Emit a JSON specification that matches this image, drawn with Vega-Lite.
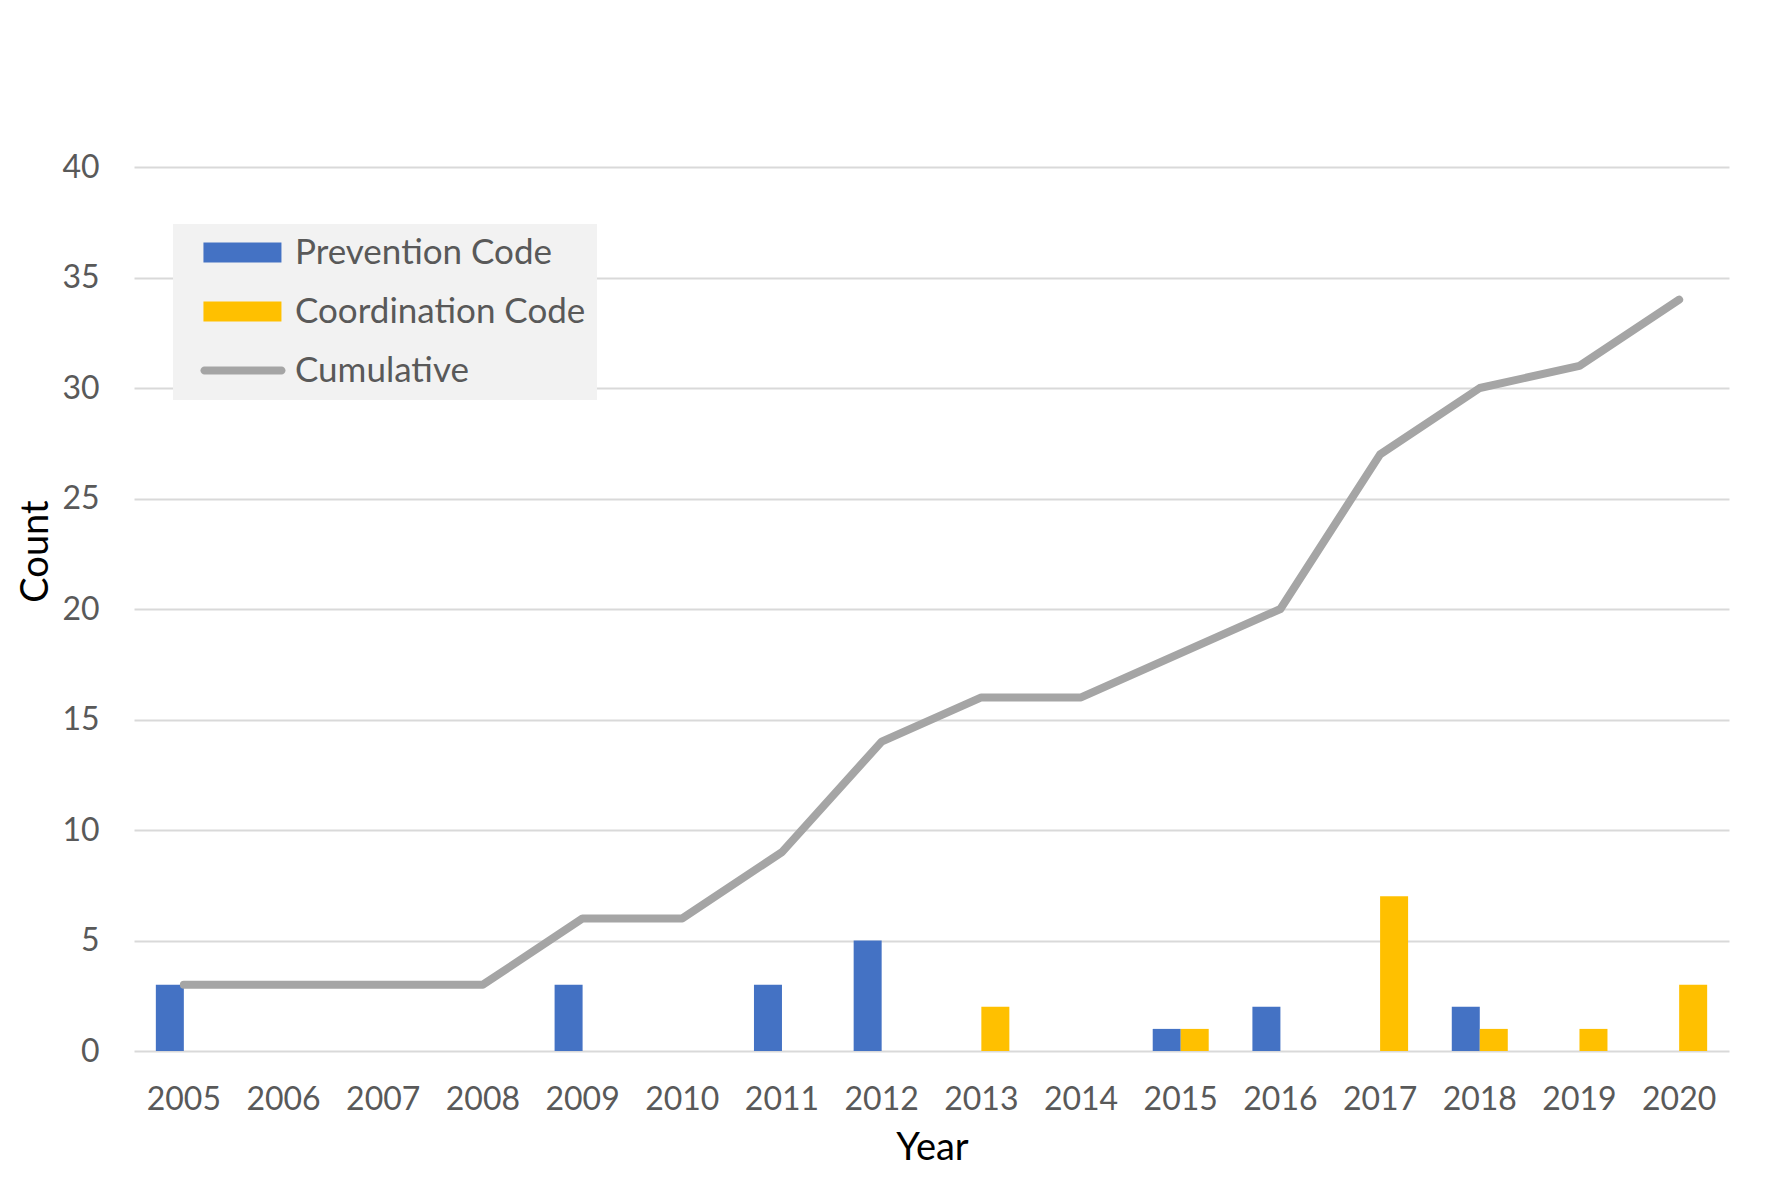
{
  "$schema": "https://vega.github.io/schema/vega-lite/v6.json",
  "width": 1595,
  "height": 884,
  "autosize": {"type": "none"},
  "padding": {"left": 134, "top": 167, "right": 53, "bottom": 127},
  "background": "white",
  "config": {"view": {"stroke": null}, "font": "Lato"},
  "data": {
    "values": [
      {"year": "2005", "series": "Prevention Code", "count": 3},
      {"year": "2005", "series": "Coordination Code", "count": 0},
      {"year": "2006", "series": "Prevention Code", "count": 0},
      {"year": "2006", "series": "Coordination Code", "count": 0},
      {"year": "2007", "series": "Prevention Code", "count": 0},
      {"year": "2007", "series": "Coordination Code", "count": 0},
      {"year": "2008", "series": "Prevention Code", "count": 0},
      {"year": "2008", "series": "Coordination Code", "count": 0},
      {"year": "2009", "series": "Prevention Code", "count": 3},
      {"year": "2009", "series": "Coordination Code", "count": 0},
      {"year": "2010", "series": "Prevention Code", "count": 0},
      {"year": "2010", "series": "Coordination Code", "count": 0},
      {"year": "2011", "series": "Prevention Code", "count": 3},
      {"year": "2011", "series": "Coordination Code", "count": 0},
      {"year": "2012", "series": "Prevention Code", "count": 5},
      {"year": "2012", "series": "Coordination Code", "count": 0},
      {"year": "2013", "series": "Prevention Code", "count": 0},
      {"year": "2013", "series": "Coordination Code", "count": 2},
      {"year": "2014", "series": "Prevention Code", "count": 0},
      {"year": "2014", "series": "Coordination Code", "count": 0},
      {"year": "2015", "series": "Prevention Code", "count": 1},
      {"year": "2015", "series": "Coordination Code", "count": 1},
      {"year": "2016", "series": "Prevention Code", "count": 2},
      {"year": "2016", "series": "Coordination Code", "count": 0},
      {"year": "2017", "series": "Prevention Code", "count": 0},
      {"year": "2017", "series": "Coordination Code", "count": 7},
      {"year": "2018", "series": "Prevention Code", "count": 2},
      {"year": "2018", "series": "Coordination Code", "count": 1},
      {"year": "2019", "series": "Prevention Code", "count": 0},
      {"year": "2019", "series": "Coordination Code", "count": 1},
      {"year": "2020", "series": "Prevention Code", "count": 0},
      {"year": "2020", "series": "Coordination Code", "count": 3},
      {"year": "2005", "series": "Cumulative", "count": 3},
      {"year": "2006", "series": "Cumulative", "count": 3},
      {"year": "2007", "series": "Cumulative", "count": 3},
      {"year": "2008", "series": "Cumulative", "count": 3},
      {"year": "2009", "series": "Cumulative", "count": 6},
      {"year": "2010", "series": "Cumulative", "count": 6},
      {"year": "2011", "series": "Cumulative", "count": 9},
      {"year": "2012", "series": "Cumulative", "count": 14},
      {"year": "2013", "series": "Cumulative", "count": 16},
      {"year": "2014", "series": "Cumulative", "count": 16},
      {"year": "2015", "series": "Cumulative", "count": 18},
      {"year": "2016", "series": "Cumulative", "count": 20},
      {"year": "2017", "series": "Cumulative", "count": 27},
      {"year": "2018", "series": "Cumulative", "count": 30},
      {"year": "2019", "series": "Cumulative", "count": 31},
      {"year": "2020", "series": "Cumulative", "count": 34}
    ]
  },
  "encoding": {
    "x": {
      "field": "year",
      "type": "ordinal",
      "scale": {"paddingInner": 0, "paddingOuter": 0},
      "axis": {
        "title": "Year",
        "labelAngle": 0,
        "domain": false,
        "ticks": false,
        "tickSize": 0,
        "grid": false,
        "labelPadding": 48,
        "labelBaseline": "middle",
        "labelFontSize": 32,
        "labelColor": "#595959",
        "titleFontSize": 38,
        "titleColor": "#000000",
        "titleFontWeight": "normal",
        "titleX": 798,
        "titleY": 97,
        "titleAlign": "center",
        "titleBaseline": "middle"
      }
    },
    "y": {
      "field": "count",
      "type": "quantitative",
      "scale": {"domain": [0, 40]},
      "axis": {
        "title": "Count",
        "values": [0, 5, 10, 15, 20, 25, 30, 35, 40],
        "domain": false,
        "ticks": false,
        "tickSize": 0,
        "grid": true,
        "gridColor": "#d9d9d9",
        "gridWidth": 2,
        "labelPadding": 35,
        "labelFontSize": 32,
        "labelColor": "#595959",
        "titleFontSize": 38,
        "titleColor": "#000000",
        "titleFontWeight": "normal",
        "titleX": -98,
        "titleY": 384,
        "titleAngle": -90,
        "titleAlign": "center",
        "titleBaseline": "middle"
      }
    },
    "color": {
      "field": "series",
      "type": "nominal",
      "scale": {
        "domain": ["Prevention Code", "Coordination Code", "Cumulative"],
        "range": ["#4472c4", "#ffc000", "#a5a5a5"]
      },
      "legend": {
        "title": null,
        "orient": "none",
        "legendX": 39,
        "legendY": 57,
        "fillColor": "#f2f2f2",
        "padding": 11,
        "symbolSize": 900,
        "symbolStrokeWidth": 0,
        "labelFontSize": 35,
        "labelColor": "#595959",
        "labelOffset": 76,
        "rowPadding": 23,
        "labelLimit": 500,
        "encode": {
          "symbols": {
            "update": {
              "shape": {"signal": "datum.value === 'Cumulative' ? 'M0.2,-0.27L5.33,-0.27A0.27,0.27 0 0 1 5.33,0.27L0.2,0.27A0.27,0.27 0 0 1 0.2,-0.27Z' : 'M0.13,-0.67L5.33,-0.67L5.33,0.67L0.13,0.67Z'"},
              "fill": {"scale": "color", "field": "value"},
              "strokeWidth": {"value": 0},
              "opacity": {"value": 1}
            }
          }
        }
      }
    }
  },
  "layer": [
    {
      "transform": [{"filter": "datum.series !== 'Cumulative'"}],
      "mark": {"type": "bar"},
      "encoding": {
        "xOffset": {
          "field": "series",
          "type": "nominal",
          "scale": {"domain": ["Prevention Code", "Coordination Code"], "paddingInner": 0, "paddingOuter": 0.78}
        }
      }
    },
    {
      "transform": [{"filter": "datum.series === 'Cumulative'"}],
      "mark": {"type": "line", "strokeWidth": 8, "strokeCap": "round", "strokeJoin": "round"}
    }
  ]
}
